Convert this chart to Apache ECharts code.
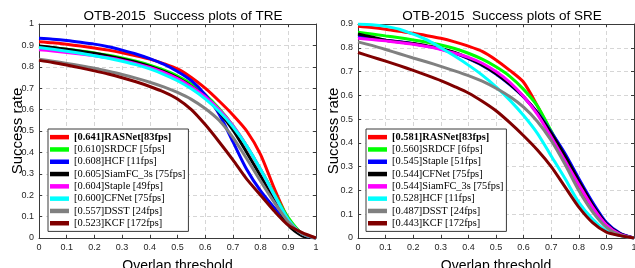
<!DOCTYPE html>
<html>
<head>
<meta charset="utf-8">
<script src="https://cdn.jsdelivr.net/npm/echarts@6/dist/echarts.min.js"></script>
<style>
  html, body { margin: 0; padding: 0; background: #fff; }
  #chart { width: 635px; height: 268px; }
</style>
</head>
<body>
<div id="chart"></div>
<script>
// overlap thresholds 0:0.05:1
const thresholds = [0, 0.05, 0.1, 0.15, 0.2, 0.25, 0.3, 0.35, 0.4, 0.45, 0.5, 0.55, 0.6, 0.65, 0.7, 0.75, 0.8, 0.85, 0.9, 0.95, 1];
const xTicks = ['0', '0.1', '0.2', '0.3', '0.4', '0.5', '0.6', '0.7', '0.8', '0.9', '1'];

// TRE success rates
const treRASNet = [0.917, 0.912, 0.905, 0.897, 0.888, 0.878, 0.866, 0.852, 0.836, 0.815, 0.790, 0.750, 0.700, 0.640, 0.575, 0.500, 0.390, 0.230, 0.090, 0.020, 0];
const treSRDCF = [0.895, 0.889, 0.882, 0.874, 0.865, 0.854, 0.841, 0.826, 0.808, 0.785, 0.757, 0.720, 0.670, 0.605, 0.525, 0.430, 0.320, 0.205, 0.095, 0.020, 0];
const treHCF = [0.933, 0.929, 0.923, 0.915, 0.906, 0.894, 0.878, 0.860, 0.838, 0.812, 0.778, 0.735, 0.670, 0.580, 0.450, 0.320, 0.220, 0.140, 0.065, 0.015, 0];
const treSiamFC = [0.897, 0.890, 0.882, 0.873, 0.863, 0.851, 0.837, 0.821, 0.802, 0.778, 0.748, 0.708, 0.658, 0.590, 0.505, 0.400, 0.290, 0.180, 0.060, 0.010, 0];
const treStaple = [0.880, 0.874, 0.867, 0.860, 0.852, 0.842, 0.830, 0.815, 0.797, 0.774, 0.745, 0.707, 0.660, 0.600, 0.525, 0.430, 0.320, 0.200, 0.085, 0.020, 0];
const treCFNet = [0.890, 0.882, 0.873, 0.863, 0.852, 0.840, 0.826, 0.810, 0.790, 0.765, 0.735, 0.697, 0.650, 0.592, 0.520, 0.430, 0.320, 0.200, 0.085, 0.020, 0];
const treDSST = [0.835, 0.826, 0.816, 0.805, 0.793, 0.779, 0.764, 0.747, 0.728, 0.706, 0.680, 0.648, 0.605, 0.550, 0.470, 0.370, 0.265, 0.165, 0.075, 0.020, 0];
const treKCF = [0.830, 0.820, 0.808, 0.795, 0.781, 0.766, 0.749, 0.730, 0.708, 0.683, 0.650, 0.600, 0.530, 0.450, 0.365, 0.275, 0.200, 0.125, 0.060, 0.025, 0];

// SRE success rates
const sreRASNet = [0.890, 0.885, 0.878, 0.869, 0.861, 0.851, 0.840, 0.825, 0.807, 0.785, 0.749, 0.705, 0.655, 0.555, 0.445, 0.340, 0.220, 0.120, 0.050, 0.015, 0];
const sreSRDCF = [0.865, 0.858, 0.850, 0.842, 0.833, 0.823, 0.812, 0.797, 0.777, 0.752, 0.720, 0.680, 0.625, 0.555, 0.450, 0.340, 0.230, 0.130, 0.055, 0.015, 0];
const sreStaple = [0.848, 0.840, 0.832, 0.825, 0.817, 0.807, 0.795, 0.778, 0.754, 0.726, 0.690, 0.645, 0.593, 0.528, 0.445, 0.355, 0.250, 0.150, 0.065, 0.020, 0];
const sreCFNet = [0.858, 0.845, 0.832, 0.824, 0.818, 0.808, 0.797, 0.780, 0.756, 0.728, 0.692, 0.647, 0.594, 0.525, 0.440, 0.345, 0.240, 0.140, 0.060, 0.018, 0];
const sreSiamFC = [0.840, 0.835, 0.829, 0.822, 0.815, 0.805, 0.793, 0.777, 0.760, 0.735, 0.700, 0.655, 0.595, 0.520, 0.425, 0.325, 0.225, 0.130, 0.055, 0.015, 0];
const sreHCF = [0.900, 0.897, 0.890, 0.878, 0.857, 0.833, 0.800, 0.765, 0.727, 0.685, 0.636, 0.580, 0.515, 0.440, 0.345, 0.250, 0.150, 0.080, 0.030, 0.010, 0];
const sreDSST = [0.825, 0.810, 0.793, 0.775, 0.757, 0.740, 0.722, 0.703, 0.683, 0.660, 0.630, 0.595, 0.550, 0.490, 0.410, 0.310, 0.200, 0.110, 0.045, 0.012, 0];
const sreKCF = [0.780, 0.762, 0.744, 0.725, 0.705, 0.684, 0.662, 0.637, 0.610, 0.575, 0.535, 0.485, 0.430, 0.370, 0.300, 0.215, 0.130, 0.065, 0.025, 0.010, 0];

const treLabels = ['[0.641]RASNet[83fps]', '[0.610]SRDCF [5fps]', '[0.608]HCF [11fps]', '[0.605]SiamFC_3s [75fps]',
  '[0.604]Staple [49fps]', '[0.600]CFNet [75fps]', '[0.557]DSST [24fps]', '[0.523]KCF [172fps]'];
const sreLabels = ['[0.581]RASNet[83fps]', '[0.560]SRDCF [6fps]', '[0.545]Staple [51fps]', '[0.544]CFNet [75fps]',
  '[0.544]SiamFC_3s [75fps]', '[0.528]HCF [11fps]', '[0.487]DSST [24fps]', '[0.443]KCF [172fps]'];

const treValues = [treRASNet, treSRDCF, treHCF, treSiamFC, treStaple, treCFNet, treDSST, treKCF];
const sreValues = [sreRASNet, sreSRDCF, sreStaple, sreCFNet, sreSiamFC, sreHCF, sreDSST, sreKCF];
const rankColors = ['#ff0000', '#00ff00', '#0000ff', '#000000', '#ff00ff', '#00ffff', '#808080', '#800000'];

const sans = 'Liberation Sans, Arial, sans-serif';
const serif = 'Liberation Serif, Times New Roman, serif';
const frameColor = '#3a3a3a';

const chart = echarts.init(document.getElementById('chart'), null, { renderer: 'canvas' });

const tickFmt = v => (v === 0 ? '0' : v === 1 ? '1' : v.toFixed(1));

function mainX(gridIndex) {
  return {
    type: 'value', gridIndex, min: 0, max: 1, interval: 0.1, position: 'bottom',
    name: 'Overlap threshold', nameLocation: 'middle', nameGap: 21, nameMoveOverlap: false,
    nameTextStyle: { fontFamily: sans, fontSize: 14, color: '#000', verticalAlign: 'top' },
    axisLine: { show: true, onZero: false, lineStyle: { color: frameColor, width: 1 } },
    axisTick: { show: true, inside: true, length: 3, lineStyle: { color: frameColor } },
    axisLabel: { fontFamily: sans, fontSize: 9, color: '#262626', margin: 5, formatter: tickFmt },
    splitLine: { show: true, lineStyle: { color: '#d6d6d6', type: [4, 3], width: 1 } },
  };
}
function frameX(gridIndex) {
  return {
    type: 'value', gridIndex, min: 0, max: 1, interval: 0.1, position: 'top',
    axisLine: { show: true, onZero: false, lineStyle: { color: frameColor, width: 1 } },
    axisTick: { show: true, inside: true, length: 3, lineStyle: { color: frameColor } },
    axisLabel: { show: false }, splitLine: { show: false },
  };
}
function mainY(gridIndex, max, gap) {
  return {
    type: 'value', gridIndex, min: 0, max, interval: 0.1, position: 'left',
    name: 'Success rate', nameLocation: 'middle', nameGap: gap, nameMoveOverlap: false,
    nameTextStyle: { fontFamily: sans, fontSize: 15, color: '#000' },
    axisLine: { show: true, onZero: false, lineStyle: { color: frameColor, width: 1 } },
    axisTick: { show: true, inside: true, length: 3, lineStyle: { color: frameColor } },
    axisLabel: { fontFamily: sans, fontSize: 9, color: '#262626', margin: 5, formatter: tickFmt },
    splitLine: { show: true, lineStyle: { color: '#d6d6d6', type: [4, 3], width: 1 } },
  };
}
function frameY(gridIndex, max) {
  return {
    type: 'value', gridIndex, min: 0, max, interval: 0.1, position: 'right',
    axisLine: { show: true, onZero: false, lineStyle: { color: frameColor, width: 1 } },
    axisTick: { show: true, inside: true, length: 3, lineStyle: { color: frameColor } },
    axisLabel: { show: false }, splitLine: { show: false },
  };
}

function makeSeries(labels, values, axisIndex) {
  return labels.map((name, i) => ({
    name,
    type: 'line',
    xAxisIndex: axisIndex,
    yAxisIndex: axisIndex,
    data: thresholds.map((t, k) => [t, values[i][k]]),
    smooth: 0.25,
    showSymbol: false,
    symbol: 'none',
    lineStyle: { color: rankColors[i], width: 3 },
    itemStyle: { color: rankColors[i] },
    animation: false,
  }));
}

function makeLegend(labels, left) {
  return {
    data: labels,
    orient: 'vertical',
    left, top: 129,
    icon: 'rect', itemWidth: 19, itemHeight: 4.5, itemGap: 0,
    padding: [2, 3, 2, 2],
    backgroundColor: '#fff',
    borderColor: frameColor, borderWidth: 1,
    selectedMode: false,
    formatter: name => (name.indexOf('RASNet') >= 0 ? '{b|' + name + '}' : '{n|' + name + '}'),
    textStyle: {
      fontFamily: serif, fontSize: 10.4, color: '#000', lineHeight: 12.3,
      rich: {
        b: { fontFamily: serif, fontSize: 10.4, fontWeight: 'bold', color: '#000', lineHeight: 12.3 },
        n: { fontFamily: serif, fontSize: 10.4, color: '#000', lineHeight: 12.3 },
      },
    },
  };
}

const option = {
  backgroundColor: '#fff',
  animation: false,
  title: [
    { text: 'OTB-2015  Success plots of TRE', left: 178, top: 4, textAlign: 'center',
      textStyle: { fontFamily: sans, fontSize: 13.5, fontWeight: 'normal', color: '#000' } },
    { text: 'OTB-2015  Success plots of SRE', left: 497, top: 4, textAlign: 'center',
      textStyle: { fontFamily: sans, fontSize: 13.5, fontWeight: 'normal', color: '#000' } },
  ],
  grid: [
    { left: 39, top: 24, width: 277, height: 214, outerBoundsMode: 'none', containLabel: false },
    { left: 358, top: 24, width: 276, height: 214, outerBoundsMode: 'none', containLabel: false },
  ],
  xAxis: [mainX(0), mainX(1), frameX(0), frameX(1)],
  yAxis: [mainY(0, 1, 14), mainY(1, 0.9, 17), frameY(0, 1), frameY(1, 0.9)],
  legend: [makeLegend(treLabels, 48), makeLegend(sreLabels, 366)],
  series: [...makeSeries(treLabels, treValues, 0), ...makeSeries(sreLabels, sreValues, 1)],
};

chart.setOption(option);
</script>
</body>
</html>
